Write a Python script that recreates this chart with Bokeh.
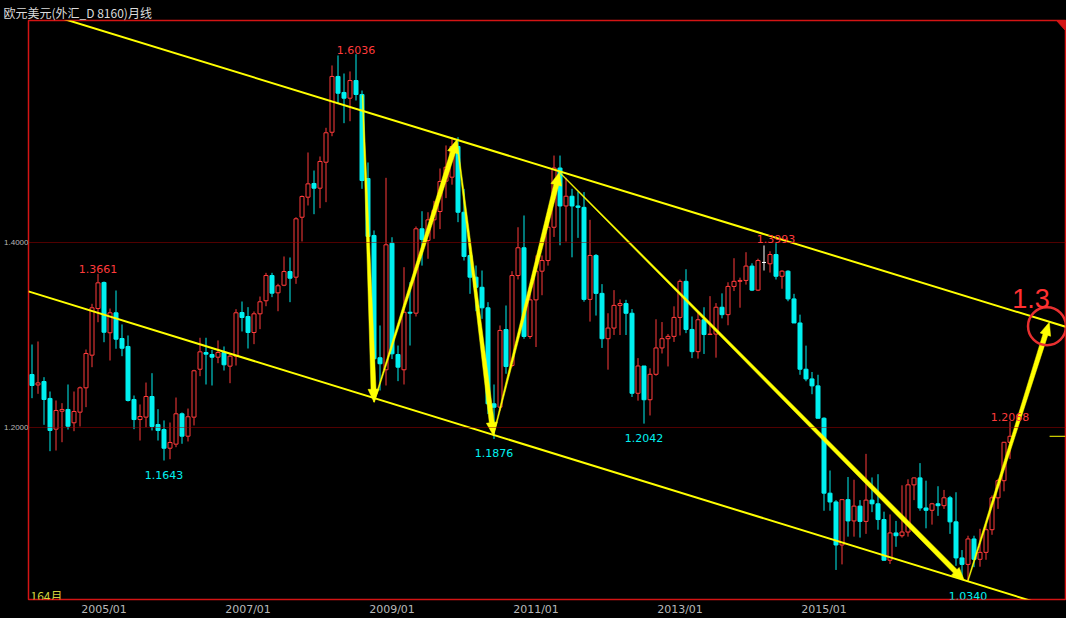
import math
import numpy as np
from bokeh.plotting import figure
from bokeh.models import Range1d, FixedTicker, Label, Span, PrintfTickFormatter
from bokeh.embed import file_html
from bokeh.resources import INLINE

# ---------------- data: EUR/USD monthly, Jan 2004 .. Aug 2017 (164 months) ----------------
START_YEAR = 2004
opens = [
    1.2573, 1.2460, 1.2497, 1.2314, 1.1982, 1.2176, 1.2195, 1.2051, 1.2166, 1.2429, 1.2782, 1.3286,
    1.3568, 1.3024, 1.3240, 1.2962, 1.2876, 1.2303, 1.2086, 1.2112, 1.2335, 1.2032, 1.1978, 1.1776,
    1.1820, 1.2148, 1.1906, 1.2112, 1.2630, 1.2811, 1.2789, 1.2760, 1.2811, 1.2663, 1.2771, 1.3243,
    1.3200, 1.3027, 1.3229, 1.3370, 1.3643, 1.3456, 1.3538, 1.3686, 1.3625, 1.4273, 1.4490, 1.4638,
    1.4587, 1.4868, 1.5192, 1.5795, 1.5622, 1.5560, 1.5751, 1.5600, 1.4692, 1.4076, 1.2754, 1.2624,
    1.3992, 1.2789, 1.2624, 1.3246, 1.3236, 1.4148, 1.4022, 1.4245, 1.4335, 1.4663, 1.4706, 1.5038,
    1.4327, 1.3859, 1.3625, 1.3516, 1.3294, 1.2256, 1.2220, 1.3059, 1.2670, 1.3643, 1.3943, 1.2984,
    1.3380, 1.3690, 1.3805, 1.4165, 1.4805, 1.4395, 1.4500, 1.4395, 1.4380, 1.3385, 1.3860, 1.3450,
    1.2960, 1.3075, 1.3320, 1.3340, 1.3235, 1.2370, 1.2665, 1.2300, 1.2575, 1.2860, 1.2960, 1.2985,
    1.3190, 1.3580, 1.3060, 1.2820, 1.3165, 1.3005, 1.3010, 1.3300, 1.3220, 1.3525, 1.3580, 1.3590,
    1.3745, 1.3485, 1.3784, 1.3770, 1.3870, 1.3635, 1.3690, 1.3390, 1.3130, 1.2630, 1.2525, 1.2450,
    1.2100, 1.1290, 1.1195, 1.0730, 1.1220, 1.0990, 1.1150, 1.0985, 1.1215, 1.1175, 1.1005, 1.0565,
    1.0860, 1.0830, 1.0870, 1.1380, 1.1455, 1.1130, 1.1105, 1.1175, 1.1155, 1.1240, 1.0980, 1.0590,
    1.0520, 1.0795, 1.0575, 1.0650, 1.0895, 1.1240, 1.1425, 1.1840,
]
highs = [
    1.2897, 1.2930, 1.2544, 1.2389, 1.2292, 1.2263, 1.2465, 1.2389, 1.2443, 1.2843, 1.3337, 1.3661,
    1.3578, 1.3286, 1.3481, 1.3114, 1.2995, 1.2346, 1.2249, 1.2486, 1.2587, 1.2198, 1.2076, 1.2054,
    1.2324, 1.2162, 1.2205, 1.2624, 1.2970, 1.2970, 1.2840, 1.2941, 1.2876, 1.2797, 1.3279, 1.3362,
    1.3301, 1.3254, 1.3416, 1.3672, 1.3672, 1.3554, 1.3849, 1.3838, 1.4273, 1.4508, 1.4973, 1.4778,
    1.4930, 1.5240, 1.5914, 1.6022, 1.5827, 1.5849, 1.6036, 1.5643, 1.4865, 1.4130, 1.3103, 1.4699,
    1.4057, 1.2886, 1.3733, 1.3571, 1.4173, 1.4338, 1.4327, 1.4450, 1.4800, 1.5049, 1.5138, 1.5138,
    1.4580, 1.3914, 1.3751, 1.3697, 1.3355, 1.2465, 1.3103, 1.3319, 1.3690, 1.4165, 1.4292, 1.3500,
    1.3860, 1.3860, 1.4250, 1.4940, 1.4940, 1.4700, 1.4580, 1.4550, 1.4545, 1.4245, 1.3875, 1.3550,
    1.3235, 1.3485, 1.3385, 1.3380, 1.3280, 1.2750, 1.2665, 1.2640, 1.3170, 1.3140, 1.3010, 1.3310,
    1.3600, 1.3711, 1.3200, 1.3245, 1.3300, 1.3420, 1.3345, 1.3450, 1.3570, 1.3830, 1.3620, 1.3895,
    1.3775, 1.3825, 1.3968, 1.3905, 1.3993, 1.3700, 1.3700, 1.3445, 1.3220, 1.2885, 1.2600, 1.2570,
    1.2110, 1.1535, 1.1215, 1.1215, 1.1465, 1.1435, 1.1215, 1.1715, 1.1460, 1.1495, 1.1090, 1.1060,
    1.0990, 1.1375, 1.1440, 1.1460, 1.1615, 1.1425, 1.1185, 1.1365, 1.1325, 1.1260, 1.1300, 1.0675,
    1.0830, 1.0830, 1.0905, 1.0950, 1.1265, 1.1445, 1.1845, 1.2068,
]
lows = [
    1.2317, 1.2364, 1.2029, 1.1744, 1.1751, 1.1841, 1.1978, 1.1960, 1.2011, 1.2220, 1.2652, 1.3138,
    1.2922, 1.2724, 1.2851, 1.2771, 1.2281, 1.1982, 1.1859, 1.2004, 1.1968, 1.1859, 1.1643, 1.1657,
    1.1787, 1.1824, 1.1849, 1.2022, 1.2555, 1.2465, 1.2454, 1.2695, 1.2616, 1.2479, 1.2670, 1.3038,
    1.2854, 1.2901, 1.3063, 1.3311, 1.3409, 1.3257, 1.3528, 1.3355, 1.3553, 1.4011, 1.4400, 1.4306,
    1.4371, 1.4436, 1.5149, 1.5499, 1.5290, 1.5311, 1.5535, 1.4580, 1.4057, 1.2330, 1.2400, 1.2454,
    1.2740, 1.2501, 1.2465, 1.2886, 1.3200, 1.3750, 1.3824, 1.4040, 1.4145, 1.4480, 1.4625, 1.4220,
    1.3805, 1.3445, 1.3257, 1.3175, 1.2145, 1.1876, 1.2184, 1.2581, 1.2652, 1.3600, 1.2959, 1.2959,
    1.2870, 1.3430, 1.3750, 1.4060, 1.3970, 1.4010, 1.3840, 1.4050, 1.3360, 1.3145, 1.3210, 1.2860,
    1.2625, 1.3000, 1.3000, 1.3000, 1.2330, 1.2290, 1.2042, 1.2130, 1.2560, 1.2800, 1.2660, 1.2925,
    1.2995, 1.3020, 1.2750, 1.2745, 1.2795, 1.3000, 1.2755, 1.3180, 1.3105, 1.3475, 1.3295, 1.3545,
    1.3475, 1.3475, 1.3697, 1.3675, 1.3600, 1.3500, 1.3365, 1.3130, 1.2570, 1.2500, 1.2360, 1.2100,
    1.1100, 1.1100, 1.0460, 1.0520, 1.0820, 1.0820, 1.0810, 1.0850, 1.1085, 1.0895, 1.0560, 1.0525,
    1.0710, 1.0810, 1.0820, 1.1215, 1.1100, 1.0910, 1.0950, 1.1045, 1.1120, 1.0850, 1.0505, 1.0350,
    1.0340, 1.0490, 1.0495, 1.0570, 1.0840, 1.1120, 1.1310, 1.1660,
]
closes = [
    1.2454, 1.2482, 1.2303, 1.1968, 1.2184, 1.2195, 1.2014, 1.2173, 1.2429, 1.2800, 1.3294, 1.3564,
    1.3030, 1.3240, 1.2955, 1.2857, 1.2292, 1.2086, 1.2119, 1.2335, 1.2011, 1.1968, 1.1776, 1.1838,
    1.2148, 1.1906, 1.2116, 1.2613, 1.2818, 1.2793, 1.2760, 1.2811, 1.2678, 1.2771, 1.3240, 1.3189,
    1.3027, 1.3229, 1.3359, 1.3643, 1.3452, 1.3532, 1.3686, 1.3614, 1.4256, 1.4497, 1.4634, 1.4587,
    1.4876, 1.5186, 1.5795, 1.5614, 1.5560, 1.5751, 1.5600, 1.4670, 1.4065, 1.2743, 1.2689, 1.3975,
    1.2797, 1.2652, 1.3246, 1.3236, 1.4148, 1.4032, 1.4245, 1.4346, 1.4659, 1.4814, 1.5038, 1.4327,
    1.3849, 1.3625, 1.3516, 1.3294, 1.2256, 1.2219, 1.3049, 1.2659, 1.3643, 1.3943, 1.2984, 1.3380,
    1.3690, 1.3805, 1.4165, 1.4805, 1.4395, 1.4500, 1.4395, 1.4380, 1.3385, 1.3860, 1.3450, 1.2960,
    1.3075, 1.3320, 1.3340, 1.3235, 1.2370, 1.2665, 1.2300, 1.2575, 1.2860, 1.2960, 1.2985, 1.3190,
    1.3580, 1.3060, 1.2820, 1.3165, 1.3005, 1.3010, 1.3300, 1.3220, 1.3525, 1.3580, 1.3590, 1.3745,
    1.3485, 1.3805, 1.3784, 1.3870, 1.3635, 1.3690, 1.3390, 1.3130, 1.2630, 1.2525, 1.2450, 1.2100,
    1.1290, 1.1195, 1.0730, 1.1220, 1.0990, 1.1150, 1.0985, 1.1215, 1.1175, 1.1005, 1.0565, 1.0860,
    1.0830, 1.0870, 1.1380, 1.1455, 1.1130, 1.1105, 1.1175, 1.1155, 1.1240, 1.0980, 1.0590, 1.0520,
    1.0795, 1.0575, 1.0650, 1.0895, 1.1240, 1.1425, 1.1840, 1.1905,
]

# x-axis ticks (month index from Jan 2004)
tick_months = [12, 36, 60, 84, 108, 132]
# y reference levels (dotted lines, axis labels)
level_values = [1.2, 1.4]
# annotated extremes (month index)
high_marks = [11, 54, 124, 163]
low_marks = [22, 77, 102, 156]

# trend channel (two parallel lines), month index -> price
channel_x = [-0.6, 172.4]
upper_channel = [1.6534, 1.3086]
lower_channel = [1.3472, 1.0008]

# drawn arrows: start (month, price) -> end (month, price)
arrow_x0 = [55.1, 57.0, 70.8, 76.9, 87.9, 156.0]
arrow_y0 = [1.5589, 1.2274, 1.5110, 1.1914, 1.4760, 1.0346]
arrow_x1 = [57.0, 70.8, 76.9, 87.9, 155.4, 169.55]
arrow_y1 = [1.2274, 1.5110, 1.1914, 1.4760, 1.0346, 1.3138]

# target marker
target_month = 169.17
target_price = 1.3095
target_text = "1.3"

title_text = "欧元美元(外汇_D 8160)月线"
count_text = "164月"

# ---------------- styling ----------------
CYAN = "#00f0f0"
RED = "#ff3b3b"
YELLOW = "#ffff00"
GRID_RED = "#a50000"
FRAME_RED = "#d41414"
GREY = "#b8b8b8"

W, H = 1066, 618
BL, BR, BT, BB = 28, 1, 20, 19
PX_PER_MONTH = 6.0
X0 = -0.5 - 0.5 / PX_PER_MONTH          # candle centres on pixel centres
X1 = X0 + (W - BL - BR) / PX_PER_MONTH
Y0, Y1 = 1.01405, 1.6400
sx = (W - BL - BR) / (X1 - X0)
sy = (H - BT - BB) / (Y1 - Y0)

p = figure(width=W, height=H, x_range=Range1d(X0, X1), y_range=Range1d(Y0, Y1),
           output_backend="svg", toolbar_location=None, title=title_text,
           min_border_left=BL, min_border_right=BR, min_border_top=BT, min_border_bottom=BB,
           background_fill_color="black", border_fill_color="black",
           outline_line_color=FRAME_RED, outline_line_width=1.5)
p.grid.visible = False

p.title.align = "left"
p.title.offset = -25
p.title.standoff = 0
p.title.text_font = "Noto Sans CJK SC"
p.title.text_font_size = "12px"
p.title.text_font_style = "normal"
p.title.text_color = "#dcdcdc"

ax = p.xaxis[0]
ax.ticker = FixedTicker(ticks=tick_months)
ax.major_label_overrides = {m: f"{START_YEAR + m // 12}/{m % 12 + 1:02d}" for m in tick_months}
ax.axis_line_color = None
ax.major_tick_line_color = None
ax.minor_tick_line_color = None
ax.major_tick_out = 0
ax.major_tick_in = 0
ax.minor_tick_out = 0
ax.major_label_standoff = 3
ax.major_label_text_color = GREY
ax.major_label_text_font = "DejaVu Sans"
ax.major_label_text_font_size = "11px"

ay = p.yaxis[0]
ay.ticker = FixedTicker(ticks=level_values)
ay.formatter = PrintfTickFormatter(format="%.4f")
ay.axis_line_color = None
ay.major_tick_line_color = None
ay.minor_tick_line_color = None
ay.major_tick_out = 0
ay.major_tick_in = 0
ay.minor_tick_out = 0
ay.major_label_standoff = 0
ay.major_label_text_color = GREY
ay.major_label_text_font = "Liberation Sans"
ay.major_label_text_font_size = "8px"

for v in level_values:
    p.add_layout(Span(location=v, dimension="width", line_color=GRID_RED,
                      line_dash="1 1", line_width=1))

# ---------------- candles ----------------
o = np.array(opens); h = np.array(highs); l = np.array(lows); c = np.array(closes)
idx = np.arange(len(o))
col = np.where(c > o, RED, np.where(c < o, CYAN, "#ffffff"))
fill = np.where(c > o, "black", col)
p.segment(x0=idx, y0=h, x1=idx, y1=l, line_color=list(col), line_width=1)
p.vbar(x=idx, width=4 / PX_PER_MONTH, top=np.maximum(o, c), bottom=np.minimum(o, c),
       fill_color=list(fill), line_color=list(col), line_width=1)

# ---------------- channel lines ----------------
p.line(channel_x, upper_channel, line_color=YELLOW, line_width=2)
p.line(channel_x, lower_channel, line_color=YELLOW, line_width=2)


def taper(xa, ya, xb, yb, w0=0.8, w1=5.0, hw=11.0, hl=13.0):
    axp, ayp = xa * sx, ya * sy
    bxp, byp = xb * sx, yb * sy
    dx, dy = bxp - axp, byp - ayp
    L = math.hypot(dx, dy)
    ux, uy = dx / L, dy / L
    nx, ny = -uy, ux
    hx, hy = bxp - ux * hl, byp - uy * hl
    pts = [(axp + nx * w0 / 2, ayp + ny * w0 / 2), (hx + nx * w1 / 2, hy + ny * w1 / 2),
           (hx + nx * hw / 2, hy + ny * hw / 2), (bxp, byp),
           (hx - nx * hw / 2, hy - ny * hw / 2), (hx - nx * w1 / 2, hy - ny * w1 / 2),
           (axp - nx * w0 / 2, ayp - ny * w0 / 2)]
    return [q[0] / sx for q in pts], [q[1] / sy for q in pts]


xs, ys = [], []
for a, b, cc, d in zip(arrow_x0, arrow_y0, arrow_x1, arrow_y1):
    px_, py_ = taper(a, b, cc, d)
    xs.append(px_); ys.append(py_)
p.patches(xs, ys, fill_color=YELLOW, line_color=YELLOW, line_width=0.5)

# last price marker
p.segment(x0=[169.6], y0=[closes[-1]], x1=[X1], y1=[closes[-1]], line_color=YELLOW, line_width=1)

# corner marker (top right)
p.patch([X1 - 9 / sx, X1, X1], [Y1, Y1, Y1 - 10 / sy], fill_color=FRAME_RED, line_color=FRAME_RED)

# target circle + text
p.scatter([target_month], [target_price], marker="circle", size=38, fill_color=None,
          line_color="#e83030", line_width=2.5)
p.add_layout(Label(x=target_month - 2.67, y=target_price + 28 / sy, text=target_text,
                   text_align="center", text_baseline="alphabetic", text_color="#ff3030",
                   text_font="Liberation Sans", text_font_size="27px"))

# extreme labels
for m in high_marks:
    p.add_layout(Label(x=m, y=highs[m] + 4.5 / sy, text=f"{highs[m]:.4f}", text_align="center",
                       text_baseline="alphabetic", text_color=RED, text_font="DejaVu Sans",
                       text_font_size="11px"))
for m in low_marks:
    p.add_layout(Label(x=m, y=lows[m] - 14.5 / sy, text=f"{lows[m]:.4f}", text_align="center",
                       text_baseline="alphabetic", text_color=CYAN, text_font="DejaVu Sans",
                       text_font_size="11px"))

# bar count
p.add_layout(Label(x=X0 + 2 / sx, y=Y0 + 4 / sy, text=count_text, text_align="left",
                   text_baseline="alphabetic", text_color="#d2d23c", text_font="Noto Sans CJK SC",
                   text_font_size="12px"))

html = file_html(p, INLINE, title="EURUSD")
html = html.replace("<head>", "<head><style>html,body{background:#000000;}</style>", 1)
open("out.html", "w").write(html)
